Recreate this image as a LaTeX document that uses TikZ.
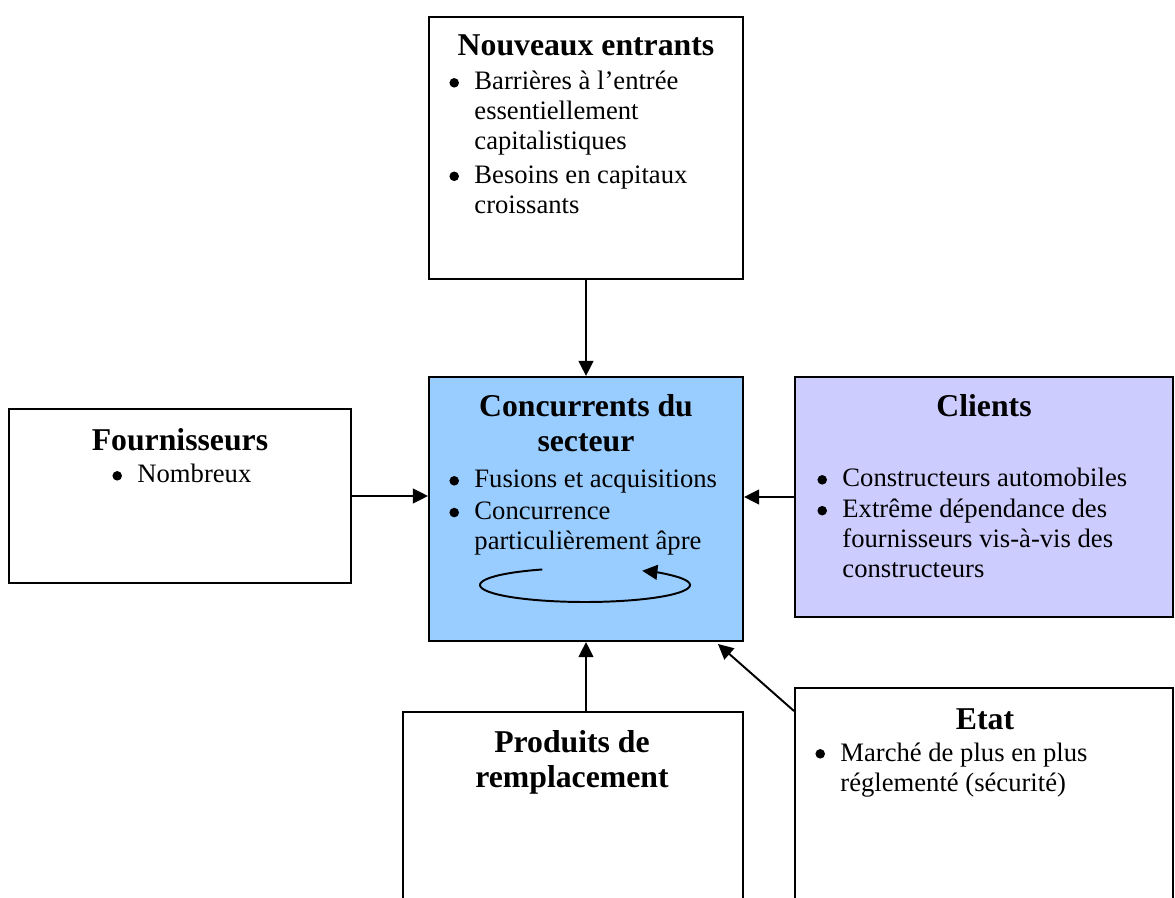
\documentclass[tikz,border=0pt]{standalone}
\usepackage{fontspec}
\setmainfont{Liberation Serif}
\usetikzlibrary{fit,calc,arrows.meta}
\definecolor{cblue}{HTML}{99CCFF}
\definecolor{clav}{HTML}{CCCCFF}
\newcommand{\bodyf}{\fontsize{12.25}{13.8}\selectfont}
\newcommand{\titf}{\fontsize{14.6}{16.1}\selectfont\bfseries}
\newcommand{\bul}{\makebox[11.5pt][l]{\tikz[baseline=0pt,x=1pt,y=1pt]\fill (2.3,3.3) circle[radius=2.2];}}
\newcommand{\ind}{\hspace{11.5pt}}
\begin{document}
\begin{tikzpicture}[x=0.46pt,y=-0.46pt,
  box/.style={draw,line width=0.9pt,inner sep=0pt},
  arr/.style={line width=0.9pt,-{Triangle[length=7pt,width=6.8pt]}},
  txt/.style={inner sep=0pt,font=\bodyf},
  tit/.style={inner sep=0pt,font=\titf,anchor=base}]
\useasboundingbox (0,0) rectangle (1175,898);
% boxes
\node[box,fit={(429,17) (743,279)}] (ne) {};
\node[box,fit={(9,409) (351,583)}] (fo) {};
\node[box,fill=cblue,fit={(429,377) (743,641)}] (cc) {};
\node[box,fill=clav,fit={(795,377) (1173,617)}] (cl) {};
\node[box,fit={(403,712) (743,930)}] (pr) {};
\node[box,fit={(795,688) (1173,930)}] (et) {};
% titles
\node[tit] (tne) at (586,56) {Nouveaux entrants};
\node[tit] (tfo) at (180,451) {Fournisseurs};
\node[tit] (tcc) at (586,417) {\titf\begin{tabular}[t]{@{}c@{}}Concurrents du\\secteur\end{tabular}};
\node[tit] (tcl) at (984,417) {Clients};
\node[tit] (tpr) at (572,752) {\titf\begin{tabular}[t]{@{}c@{}}Produits de\\remplacement\end{tabular}};
\node[tit] (tet) at (985,729) {Etat};
% bodies
\node[txt,anchor=base west] (bne) at (449,90) {\bodyf\begin{tabular}[t]{@{}l@{}}\bul Barrières à l’entrée\\ \ind essentiellement\\ \ind capitalistiques\\[1.6pt] \bul Besoins en capitaux\\ \ind croissants\end{tabular}};
\node[txt,anchor=base west] (bfo) at (112,483) {\bul Nombreux};
\node[txt,anchor=base west] (bcc) at (449,488) {\bodyf\begin{tabular}[t]{@{}l@{}}\bul Fusions et acquisitions\\[0.8pt] \bul Concurrence\\ \ind particulièrement âpre\end{tabular}};
\node[txt,anchor=base west] (bcl) at (817,487) {\bodyf\begin{tabular}[t]{@{}l@{}}\bul Constructeurs automobiles\\[0.4pt] \bul Extrême dépendance des\\ \ind fournisseurs vis-à-vis des\\ \ind constructeurs\end{tabular}};
\node[txt,anchor=base west] (bet) at (815,761) {\bodyf\begin{tabular}[t]{@{}l@{}}\bul Marché de plus en plus\\ \ind réglementé (sécurité)\end{tabular}};
% connectors
\draw[arr] (ne.south) -- (cc.north);
\draw[arr] (fo.east) -- (fo.east -| cc.west);
\draw[arr] (cl.west) -- (cl.west -| cc.east);
\draw[arr] (cc.south |- pr.north) -- (cc.south);
\coordinate (es) at ($(et.north west)+(0,24)$);
\coordinate (ee) at ($(cc.south east)+(-26,2)$);
\draw[arr] (es) -- (ee);
% rivalry loop
\coordinate (ell) at (585,585);
\draw[arr] ([shift={(246:105 and 17)}]ell) arc[start angle=246,end angle=-57,x radius=105,y radius=17];
\end{tikzpicture}
\end{document}
